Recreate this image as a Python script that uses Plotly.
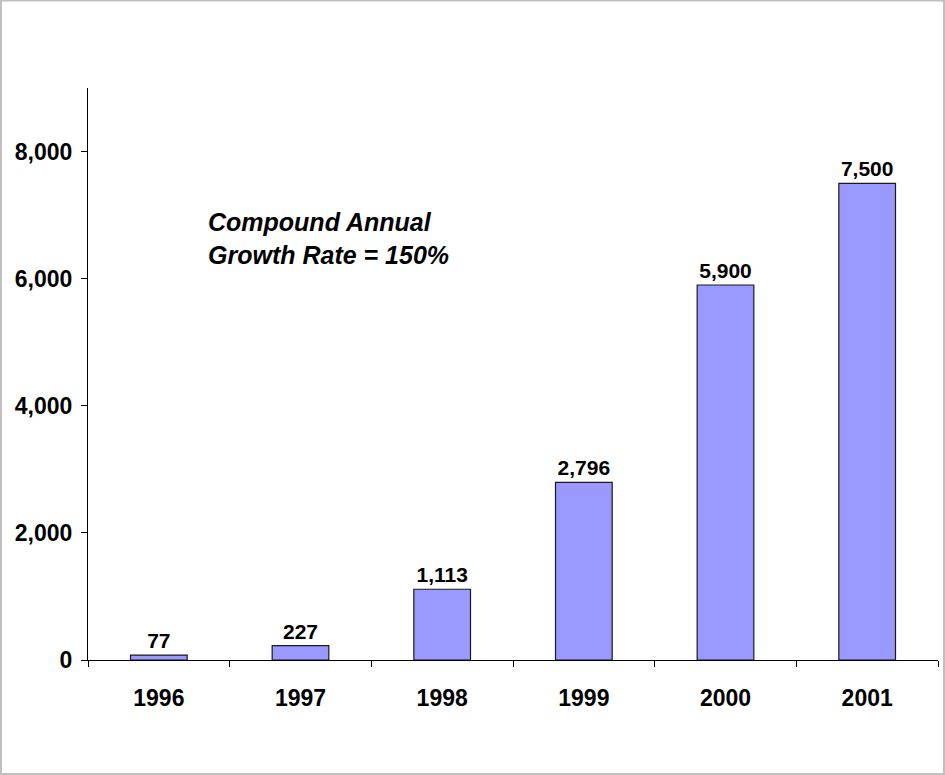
import plotly.graph_objects as go

years = ["1996", "1997", "1998", "1999", "2000", "2001"]
values = [77, 227, 1113, 2796, 5900, 7500]
y_ticks = [0, 2000, 4000, 6000, 8000]

W, H = 945, 775
ML, MR, MT, MB = 88, 7, 88, 115
PW, PH = W - ML - MR, H - MT - MB

fig = go.Figure(
    go.Bar(
        x=years,
        y=values,
        width=0.4,
        marker=dict(color="#9999FF", line=dict(color="#1a1a1a", width=1.2)),
        text=[f"{v:,}" for v in values],
        textposition="outside",
        textfont=dict(family="Liberation Sans, Arial", size=21, color="black"),
        texttemplate="<b>%{text}</b>",
        cliponaxis=False,
    )
)

# light grey frame around the whole page
fig.add_shape(
    type="rect", xref="paper", yref="paper",
    x0=(1 - ML) / PW, x1=(W - 1 - ML) / PW,
    y0=-(MB - 1) / PH, y1=(H - MB - 0.5) / PH,
    line=dict(color="#c0c0c0", width=2), fillcolor="rgba(0,0,0,0)", layer="below",
)

fig.add_annotation(
    text="<b><i>Compound Annual<br>Growth Rate = 150%</i></b>",
    xref="paper", yref="paper",
    x=(206 - ML) / PW, y=(660 - 206) / PH,
    xanchor="left", yanchor="top", align="left", showarrow=False,
    font=dict(family="Liberation Sans, Arial", size=25, color="black"),
)

fig.update_layout(
    width=W, height=H,
    margin=dict(l=ML, r=MR, t=MT, b=MB),
    paper_bgcolor="white", plot_bgcolor="white",
    showlegend=False,
    bargap=0.6,
    font=dict(family="Liberation Sans, Arial", color="black"),
)
fig.update_xaxes(
    type="category",
    showline=True, linecolor="black", linewidth=1,
    ticks="outside", tickson="boundaries", ticklen=6, tickcolor="black",
    tickfont=dict(size=23),
    tickprefix="<b>", ticksuffix="</b>",
    ticklabelstandoff=17,
    showgrid=False, zeroline=False,
)
fig.update_yaxes(
    range=[0, 9000],
    tickvals=y_ticks,
    ticktext=[f"<b>{v:,}</b>" for v in y_ticks],
    showline=True, linecolor="black", linewidth=1,
    ticks="outside", ticklen=6, tickcolor="black",
    tickfont=dict(size=23),
    ticklabelstandoff=4,
    showgrid=False, zeroline=False,
)

fig.write_html("out.html")
